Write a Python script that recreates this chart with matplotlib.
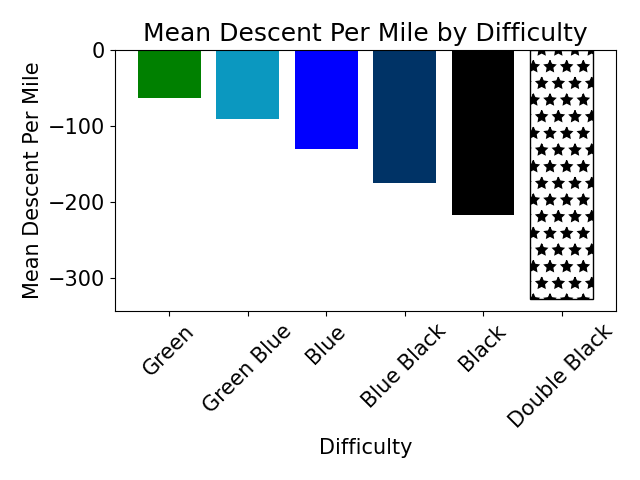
import matplotlib
matplotlib.use('Agg')
import matplotlib.pyplot as plt

difficulties = ['Green', 'Green Blue', 'Blue', 'Blue Black', 'Black', 'Double Black']
descent = [-63, -91, -130, -175, -217, -328]
colors = ['green', '#0b98c0', 'blue', '#003366', 'black', 'white']

plt.rcParams['font.size'] = 15
fig, ax = plt.subplots(figsize=(6.4, 4.8), dpi=100)
bars = ax.bar(difficulties, descent, color=colors)
bars[-1].set_hatch('*')
bars[-1].set_edgecolor('black')
ax.set_title('Mean Descent Per Mile by Difficulty', fontsize=18)
ax.set_xlabel('Difficulty')
ax.set_ylabel('Mean Descent Per Mile')
plt.xticks(rotation=45)
plt.tight_layout()
plt.savefig('out.png')
